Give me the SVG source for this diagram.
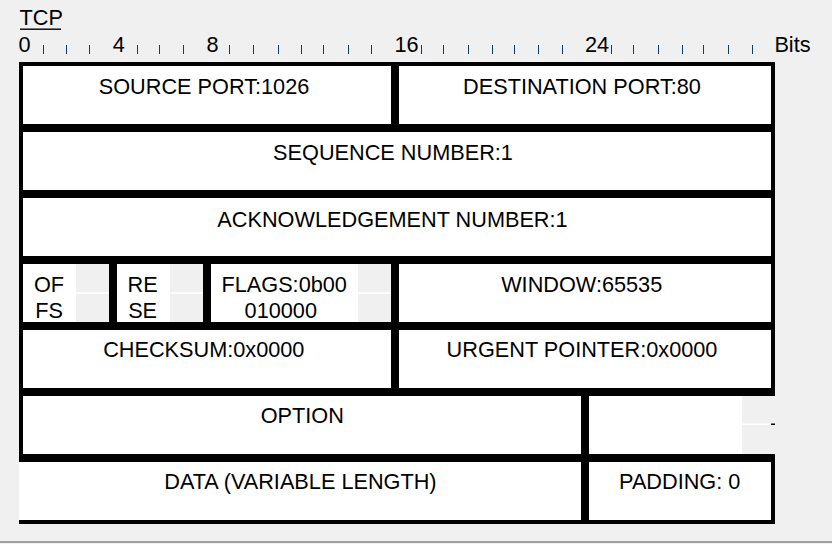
<svg xmlns="http://www.w3.org/2000/svg" width="832" height="544" viewBox="0 0 832 544">
  <style>
    text { font-family: "Liberation Sans", Arial, sans-serif; font-size: 21.7px; fill: #000; }
    .c { text-anchor: middle; }
    .cell { fill: #fff; stroke: #000; stroke-width: 4; }
    .bar { fill: #000; }
    .gray { fill: #f0f0f0; }
    .hl { fill: #fff; }
    .tick { stroke: #0a3c78; stroke-width: 1; }
  </style>
  <rect width="832" height="544" fill="#f0f0f0"/>
  <rect x="0" y="541" width="832" height="2" fill="#a0a0a0"/>

  <g id="header">
    <text x="19.5" y="25">TCP</text>
    <rect x="20" y="28.5" width="41" height="1.4" fill="#000"/>
    <text x="18.5" y="51.5">0</text>
    <text x="112.8" y="51.5">4</text>
    <text x="206.6" y="51.5">8</text>
    <text x="394.5" y="51.5">16</text>
    <text x="585" y="51.5">24</text>
    <text x="774.4" y="51.5">Bits</text>
    <path class="tick" d="M43.5 45V54M66.5 45V54M89.5 45V54M137.5 45V54M159.5 45V54M183.5 45V54M229.5 45V54M253.5 45V54M278.5 45V54M301.5 45V54M323.5 45V54M348.5 45V54M371.5 45V54M421.5 45V54M443.5 45V54M468.5 45V54M492.5 45V54M514.5 45V54M538.5 45V54M562.5 45V54M611.5 45V54M633.5 45V54M658.5 45V54M682.5 45V54M703.5 45V54M728.5 45V54M752.5 45V54"/>
  </g>

  <g id="source-port">
    <rect class="cell" x="21" y="64" width="372" height="62"/>
    <text class="c" x="204" y="93.8">SOURCE PORT:1026</text>
  </g>
  <g id="destination-port">
    <rect class="cell" x="397" y="64" width="376" height="62"/>
    <text class="c" x="582" y="93.8">DESTINATION PORT:80</text>
  </g>

  <g id="sequence-number">
    <rect class="cell" x="21" y="130" width="752" height="62"/>
    <text class="c" x="393" y="160.3">SEQUENCE NUMBER:1</text>
  </g>

  <g id="ack-number">
    <rect class="cell" x="21" y="196" width="752" height="62"/>
    <text class="c" x="392.5" y="226.5">ACKNOWLEDGEMENT NUMBER:1</text>
  </g>

  <g id="offset">
    <rect class="cell" x="21" y="262" width="90" height="62"/>
    <rect class="gray" x="76" y="264" width="33" height="58"/>
    <rect class="hl" x="76" y="292.3" width="33" height="1.5"/>
    <text class="c" x="49" y="291.7">OF</text>
    <text class="c" x="49" y="318.3">FS</text>
  </g>
  <g id="reserved">
    <rect class="cell" x="115" y="262" width="90" height="62"/>
    <rect class="gray" x="170" y="264" width="33" height="58"/>
    <rect class="hl" x="170" y="292.3" width="33" height="1.5"/>
    <text class="c" x="142.6" y="291.7">RE</text>
    <text class="c" x="142.6" y="318.3">SE</text>
  </g>
  <g id="flags">
    <rect class="cell" x="209" y="262" width="184" height="62"/>
    <rect class="gray" x="358" y="264" width="33" height="58"/>
    <rect class="hl" x="358" y="292.3" width="33" height="1.5"/>
    <text class="c" x="284.2" y="291.7">FLAGS:0b00</text>
    <text class="c" x="280.8" y="318.3">010000</text>
  </g>
  <g id="window">
    <rect class="cell" x="397" y="262" width="376" height="62"/>
    <text class="c" x="581.7" y="291.7">WINDOW:65535</text>
  </g>

  <g id="checksum">
    <rect class="cell" x="21" y="328" width="372" height="62"/>
    <text class="c" x="203.8" y="357.3">CHECKSUM:0x0000</text>
  </g>
  <g id="urgent-pointer">
    <rect class="cell" x="397" y="328" width="376" height="62"/>
    <text class="c" x="582" y="357.3">URGENT POINTER:0x0000</text>
  </g>

  <g id="option">
    <rect class="cell" x="21" y="394" width="562" height="62"/>
    <text class="c" x="302.3" y="423.3">OPTION</text>
  </g>
  <g id="option-right">
    <rect fill="#fff" x="589" y="396" width="153" height="58"/>
    <rect class="bar" x="585" y="392" width="190" height="4"/>
    <rect class="bar" x="585" y="454" width="190" height="4"/>
    <rect class="bar" x="585" y="392" width="4" height="66"/>
    <rect class="hl" x="742" y="423.5" width="29" height="1.5"/>
    <rect class="bar" x="771" y="423.5" width="4" height="1.5"/>
  </g>

  <g id="data">
    <rect fill="#fff" x="19" y="462" width="562" height="58"/>
    <rect class="bar" x="19" y="458" width="566" height="4"/>
    <rect class="bar" x="19" y="520" width="566" height="4"/>
    <rect class="bar" x="581" y="458" width="4" height="66"/>
    <text class="c" x="300.4" y="489.3">DATA (VARIABLE LENGTH)</text>
  </g>
  <g id="padding">
    <rect class="cell" x="587" y="460" width="186" height="62"/>
    <text class="c" x="679.7" y="489.3">PADDING: 0</text>
  </g>

  <g id="connectors"/>
</svg>
